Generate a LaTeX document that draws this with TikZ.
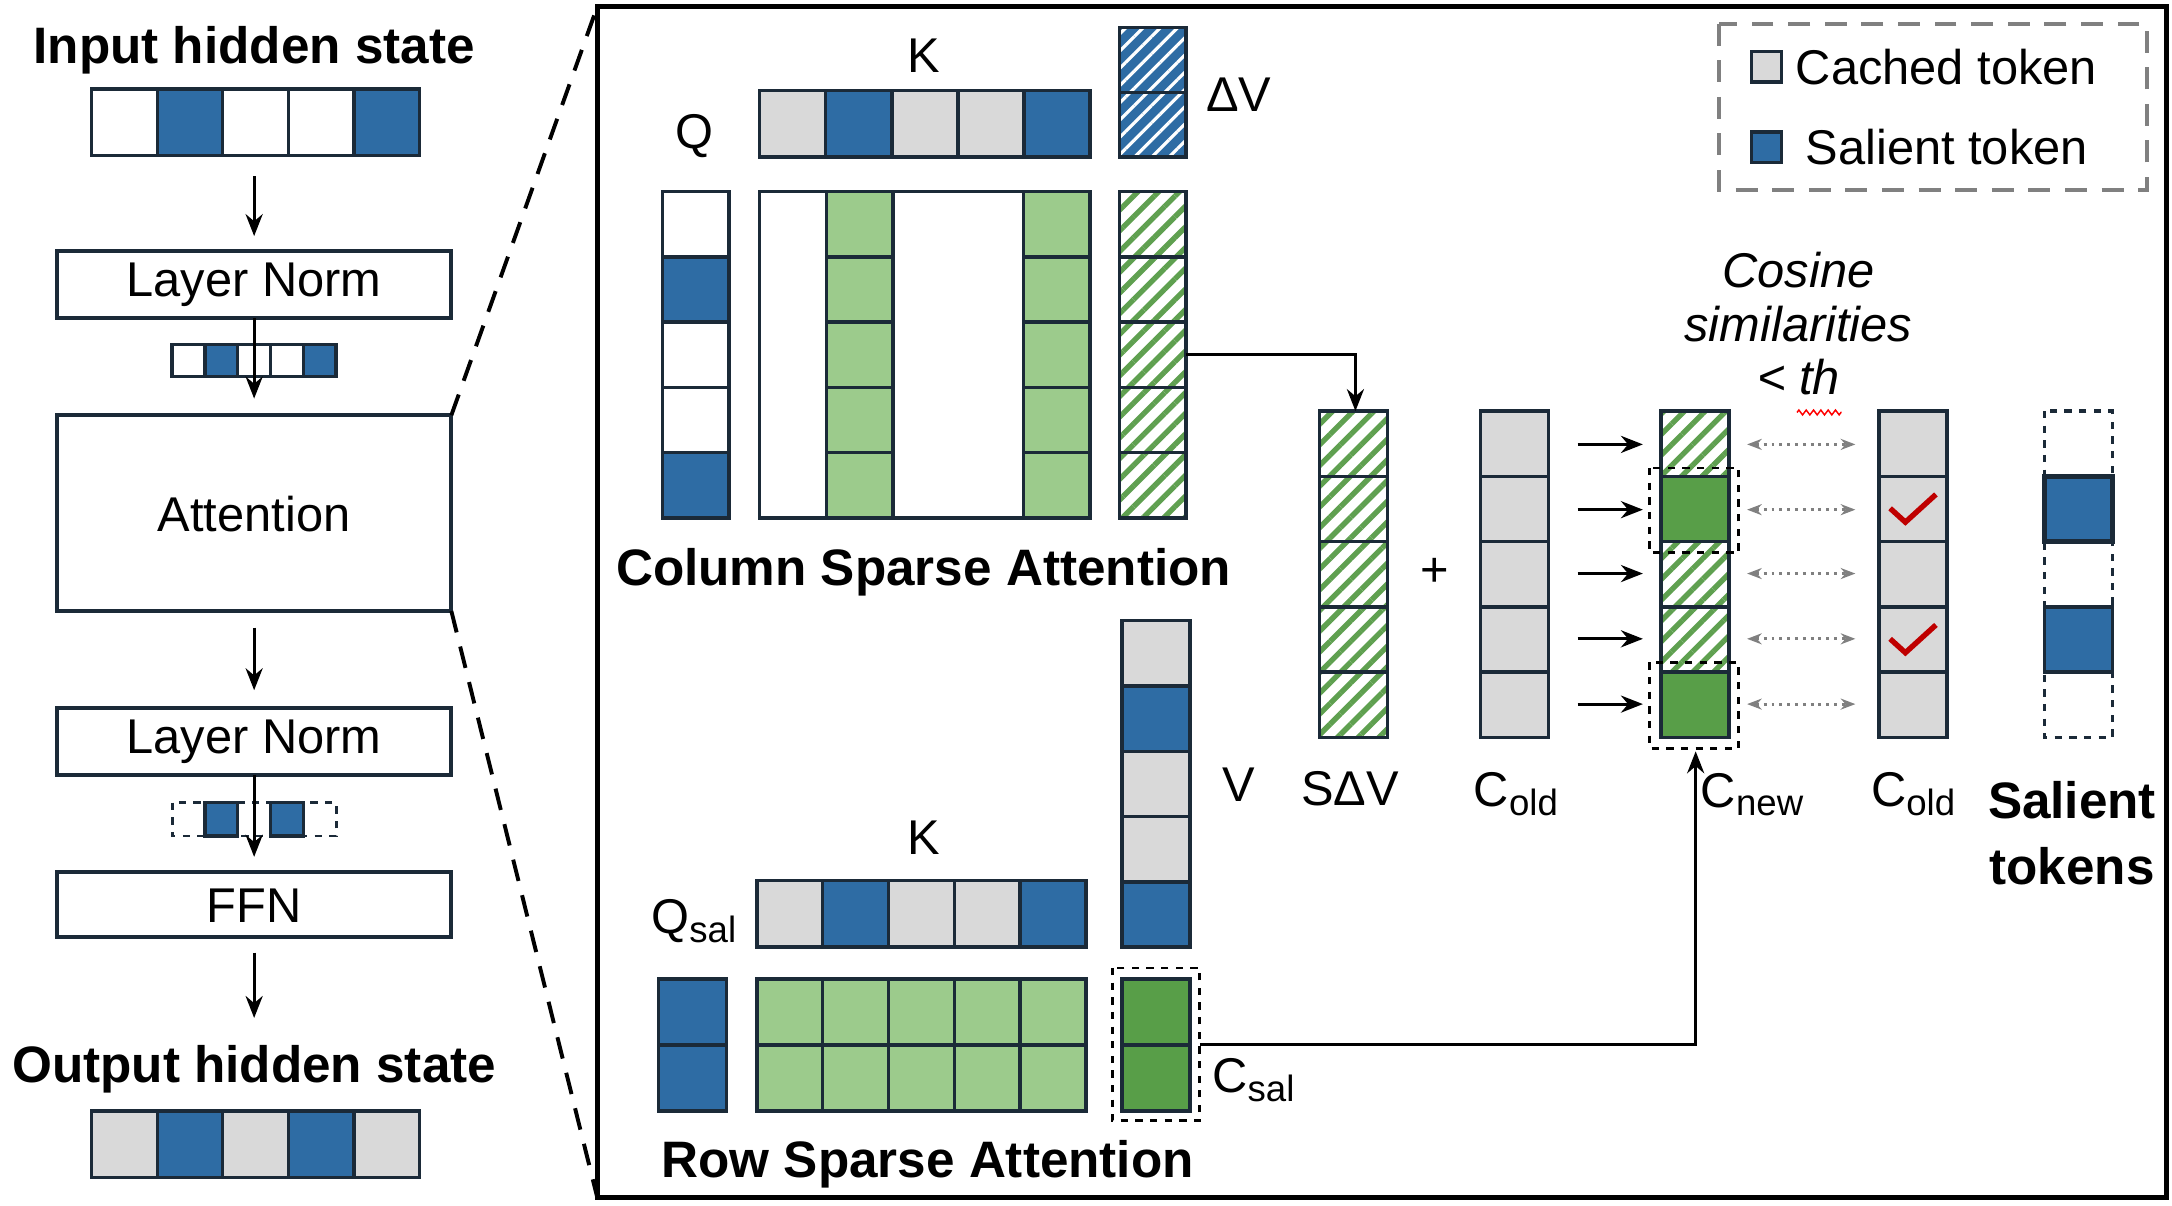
\documentclass[tikz,border=0pt]{standalone}
\usepackage{fontspec}
\setmainfont{Liberation Sans}
\usetikzlibrary{patterns.meta,arrows.meta,decorations.pathmorphing}
\definecolor{bl}{HTML}{2E6CA4}
\definecolor{gy}{HTML}{D9D9D9}
\definecolor{lg}{HTML}{9CCB8C}
\definecolor{dg}{HTML}{589E48}
\definecolor{hgc}{HTML}{5FA050}
\definecolor{ed}{HTML}{1B2A38}
\newcommand\vcells[5]{\foreach \c [count=\i from 0] in {#5} {\path[cell,\c] (#1,{#3+\i*#4}) rectangle (#2,{#3+\i*#4+#4});}}
\newcommand\hcells[5]{\foreach \c [count=\i from 0] in {#5} {\path[cell,\c] ({#1+\i*#4},#2) rectangle ({#1+\i*#4+#4},#3);}}
\begin{document}
\begin{tikzpicture}[x=0.02cm,y=-0.02cm,
  font=\fontsize{20}{24}\selectfont,
  cell/.style={draw=ed,line width=1.4pt},
  wh/.style={fill=white}, bl/.style={fill=bl}, gy/.style={fill=gy},
  lg/.style={fill=lg}, dg/.style={fill=dg},
  hg/.style={preaction={fill=white},pattern={Lines[angle=45,distance=6pt,line width=2.2pt]},pattern color=hgc},
  hb/.style={preaction={fill=bl},pattern={Lines[angle=45,distance=5pt,line width=1.3pt]},pattern color=white},
  dw/.style={fill=white,draw=ed,dashed,line width=1.2pt},
  box/.style={draw=ed,line width=1.6pt,fill=white},
  arr/.style={-{Stealth[length=9pt,width=7pt]},line width=1.2pt},
  bt/.style={font=\fontsize{21}{25}\selectfont\bfseries}]
\useasboundingbox (0,0) rectangle (1564,868);
% ---------- left column
\node[bt] (in) at (183,36) {Input hidden state};
\hcells{66}{64}{112}{47.2}{wh,bl,wh,wh,bl}
\draw[box] (41,181) rectangle (325,229); \node (ln1) at (183,205) {Layer Norm};
\hcells{124}{248}{271}{23.6}{wh,bl,wh,wh,bl}
\draw[box] (41,299) rectangle (325,440); \node (att) at (183,370) {Attention};
\draw[box] (41,510) rectangle (325,558); \node (ln2) at (183,534) {Layer Norm};
\draw[dw] (124,578) rectangle (242,602);
\path[cell,bl] (147.6,578) rectangle (171.2,602);
\path[cell,bl] (194.8,578) rectangle (218.4,602);
\draw[box] (41,628) rectangle (325,675); \node (ffn) at (183,652) {FFN};
\node[bt] (out) at (183,770) {Output hidden state};
\hcells{66}{800}{848}{47.2}{gy,bl,gy,bl,gy}
\coordinate (a1) at (183,127); \coordinate (a1e) at (183,170);
\draw[arr] (a1) -- (a1e);
\coordinate (a2) at (183,229); \coordinate (a2e) at (183,287);
\draw[arr] (a2) -- (a2e);
\coordinate (a3) at (183,452); \coordinate (a3e) at (183,497);
\draw[arr] (a3) -- (a3e);
\coordinate (a4) at (183,558); \coordinate (a4e) at (183,617);
\draw[arr] (a4) -- (a4e);
\coordinate (a5) at (183,686); \coordinate (a5e) at (183,733);
\draw[arr] (a5) -- (a5e);
% zoom lines
\coordinate (z1) at (325,299); \coordinate (z2) at (430,5);
\coordinate (z3) at (325,440); \coordinate (z4) at (430,862);
\draw[line width=1.6pt,dash pattern=on 9pt off 6pt] (z1) -- (z2) (z3) -- (z4);
\draw[line width=2pt] (430,5) rectangle (1560,862);
% legend
\draw[gray,line width=1.6pt,dash pattern=on 9pt off 6pt] (1238,17) rectangle (1546,137);
\path[cell,gy] (1261,37) rectangle (1283,59);
\path[cell,bl] (1261,95) rectangle (1283,117);
\node[anchor=west] (l1) at (1287,48) {Cached token};
\node[anchor=west] (l2) at (1294,106) {Salient token};
% ---------- column sparse attention
\node (Q) at (500,98) {Q};
\vcells{477}{525}{138}{47}{wh,bl,wh,wh,bl}
\node (K) at (665,40) {K};
\hcells{547}{65}{113}{47.6}{gy,bl,gy,gy,bl}
\vcells{806}{854}{20}{46.5}{hb,hb}
\node (dV) at (892,68) {ΔV};
\draw[cell,fill=white] (547,138) rectangle (785,373);
\vcells{595}{643}{138}{47}{lg,lg,lg,lg,lg}
\vcells{737}{785}{138}{47}{lg,lg,lg,lg,lg}
\vcells{806}{854}{138}{47}{hg,hg,hg,hg,hg}
\node[bt] (csa) at (665,412) {Column Sparse Attention};
\vcells{950}{999}{296}{47}{hg,hg,hg,hg,hg}
\node (sdv) at (972,568) {SΔV};
\coordinate (hv) at (854,255); \coordinate (sdvt) at (976,296);
\draw[arr] (hv) -| (sdvt);
\node (plus) at (1033,412) {+};
\vcells{1066}{1115}{296}{47}{gy,gy,gy,gy,gy}
\node (cold1) at (1092,572) {C\textsubscript{\fontsize{15}{16}\selectfont old}};
\vcells{1196}{1245}{296}{47}{hg,dg,hg,hg,dg}
\draw[dashed,line width=1.2pt] (1188,337) rectangle (1252,398);
\draw[dashed,line width=1.2pt] (1188,477) rectangle (1252,539);
\node (cnew) at (1262,572) {C\textsubscript{\fontsize{15}{16}\selectfont new}};
\vcells{1353}{1402}{296}{47}{gy,gy,gy,gy,gy}
\node (cold2) at (1378,572) {C\textsubscript{\fontsize{15}{16}\selectfont old}};
\foreach \y in {366,460}{\draw[red!75!black,line width=2.2pt] (1361,\y) -- (1372,\y+10) -- (1394,{\y-10});}
\foreach \y in {320,367,413,460,507}{
  \draw[arr] (1136,\y) -- (1183,\y);
  \draw[gray,dotted,line width=1.2pt,{Stealth[length=6pt]}-{Stealth[length=6pt]}] (1258,\y) -- (1336,\y);}
\node[font=\fontsize{20}{24}\selectfont\itshape,align=center] (cos) at (1295,233) {Cosine\\[-2pt]similarities\\[-2pt]< th};
\draw[red,line width=0.6pt,decorate,decoration={zigzag,amplitude=1pt,segment length=3pt}] (1294,297) -- (1326,297);
\draw[dashed,line width=1.4pt,draw=ed] (1472,296) rectangle (1521,531);
\path[cell,bl,line width=2pt] (1472,343) rectangle (1521,390);
\path[cell,bl] (1472,437) rectangle (1521,484);
\node[bt,align=center] (st) at (1492,600) {Salient\\[2pt]tokens};
% ---------- row sparse attention
\vcells{808}{857}{447}{47}{gy,bl,gy,gy,bl}
\node (V) at (892,565) {V};
\node (K2) at (665,603) {K};
\hcells{545}{634}{682}{47.4}{gy,bl,gy,gy,bl}
\node (qs) at (500,663) {Q\textsubscript{\fontsize{15}{16}\selectfont sal}};
\vcells{474}{523}{705}{47.5}{bl,bl}
\foreach \j in {0,1}{\hcells{545}{705+\j*47.5}{752.5+\j*47.5}{47.4}{lg,lg,lg,lg,lg}}
\vcells{808}{857}{705}{47.5}{dg,dg}
\draw[dashed,line width=1.2pt] (801,697) rectangle (864,807);
\node (cs) at (903,778) {C\textsubscript{\fontsize{15}{16}\selectfont sal}};
\coordinate (csr) at (864,752); \coordinate (cnb) at (1221,541);
\draw[arr] (csr) -| (cnb);
\node[bt] (rsa) at (668,838) {Row Sparse Attention};
\end{tikzpicture}
\end{document}
